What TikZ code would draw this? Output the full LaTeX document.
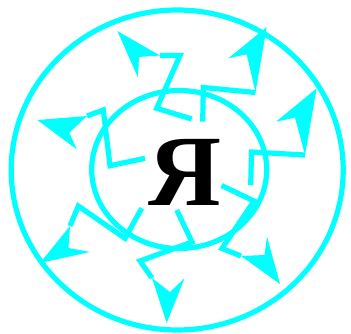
\documentclass[tikz,border=0pt]{standalone}
\usepackage{fontspec}
\newfontfamily\cyrfont{Liberation Serif}
\definecolor{aqua}{RGB}{0,255,255}
\begin{document}
\begin{tikzpicture}[x=1pt,y=-1pt,
  ring/.style={aqua, line width=5.2pt},
  shaft/.style={aqua, line width=5.2pt, line join=miter},
  head/.style={fill=aqua, draw=none}]
\useasboundingbox (0,0) rectangle (351,334);
\draw[ring] (177.2,170) ellipse [x radius=166, y radius=160];
\draw[ring] (179.2,169.5) ellipse [x radius=87.5, y radius=79];
\node[font=\cyrfont\bfseries\fontsize{101}{101}\selectfont, inner sep=0, anchor=base] (ya) at (185,205) {Я};
% A
\coordinate (pA) at (160,55.5);
\draw[shaft] (191.7,119) -- (156.7,108.3) -- (180,55.5) -- (pA);
\fill[head] (117.3,31) -- (pA) -- (139,57) -- (138,77.5) -- cycle;
% B
\coordinate (pB) at (255.5,92.5);
\draw[shaft] (202.7,121.7) -- (203.3,87.5) -- (pB);
\fill[head] (266.7,27) -- (pB) -- (246.7,54.3) -- (228.3,58.3) -- cycle;
% C
\coordinate (pC) at (305,155);
\draw[shaft] (250.7,185) -- (251.5,152) -- (pC);
\fill[head] (316.7,88.3) -- (pC) -- (295,117.7) -- (276,121.7) -- cycle;
% D
\coordinate (pD) at (87,116);
\draw[shaft] (145,158.3) -- (110,165.7) -- (103.3,110) -- (pD);
\fill[head] (37.3,120) -- (pD) -- (69.3,132.7) -- (76.7,149.3) -- cycle;
% E
\coordinate (pE) at (70,226);
\draw[shaft] (141.7,208.3) -- (125,238.3) -- (78.3,206) -- (pE);
\fill[head] (40,263) -- (pE) -- (68.5,248) -- (90,252) -- cycle;
% F
\coordinate (pF) at (152,278);
\draw[shaft] (176.7,210) -- (192,242) -- (140,261) -- (pF);
\fill[head] (166.7,323) -- (pF) -- (170,292) -- (184.5,278.3) -- cycle;
% G
\coordinate (pG) at (241,256);
\draw[shaft] (221.5,185.5) -- (254,201) -- (222,248.5) -- (pG);
\fill[head] (280,284) -- (pG) -- (264.5,255) -- (267,236.5) -- cycle;
\end{tikzpicture}
\end{document}
